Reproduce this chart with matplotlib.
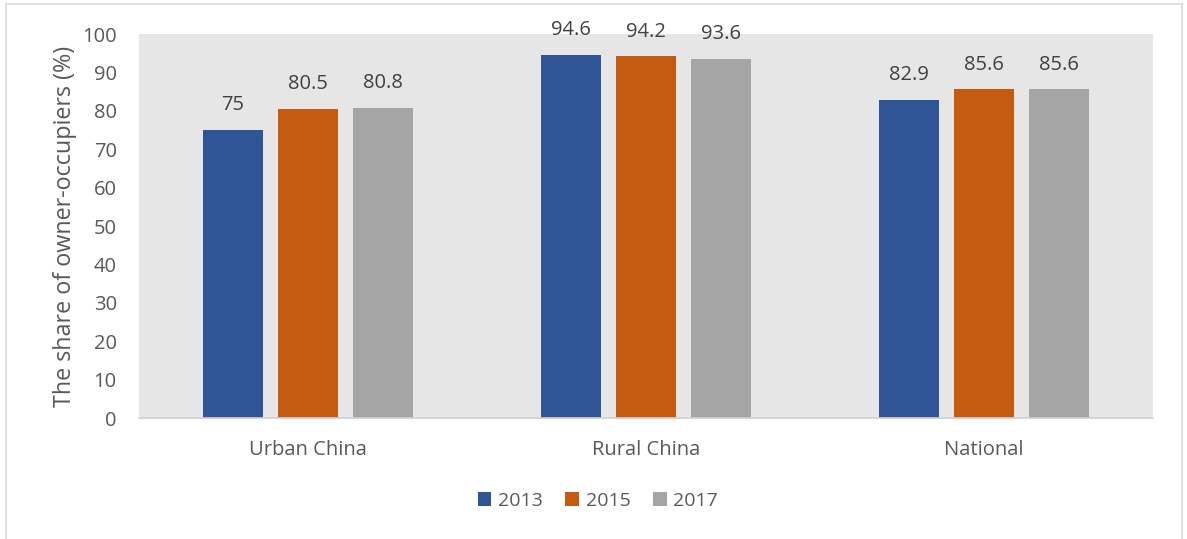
import matplotlib.pyplot as plt
import matplotlib.patches as mpatches
import numpy as np

regions = ['Urban China', 'Rural China', 'National']
years = ['2013', '2015', '2017']
share_2013 = [75, 94.6, 82.9]
share_2015 = [80.5, 94.2, 85.6]
share_2017 = [80.8, 93.6, 85.6]
colors = ['#2f5597', '#c55a11', '#a5a5a5']

plt.rcParams['font.family'] = ['Open Sans', 'DejaVu Sans']
txt = '#595959'

W, H = 1187, 539
fig = plt.figure(figsize=(W / 100, H / 100), dpi=100)
fig.patch.set_facecolor('white')

# outer chart frame
fig.add_artist(mpatches.Rectangle((6 / W, -0.05), (1182 - 6) / W, 1.05 - 4 / H,
                                  transform=fig.transFigure, fill=False,
                                  edgecolor='#d9d9d9', lw=1.2))

ax = fig.add_axes([139 / W, 1 - 418 / H, (1153 - 139) / W, (418 - 34) / H])
ax.set_facecolor('#e7e6e6')

x = np.arange(len(regions))
width = 0.175
step = 0.222
for i, (vals, yr) in enumerate(zip([share_2013, share_2015, share_2017], years)):
    bars = ax.bar(x + (i - 1) * step, vals, width, color=colors[i], label=yr, zorder=2)
    for b, v in zip(bars, vals):
        ax.text(b.get_x() + b.get_width() / 2, v + 3.8, f'{v:g}', ha='center', va='bottom',
                fontsize=14.5, color='#404040')

ax.set_xlim(-0.5, 2.5)
ax.set_ylim(0, 100)
ax.set_yticks(range(0, 101, 10))
ax.set_xticks(x)
ax.set_xticklabels(regions)
ax.tick_params(axis='both', length=0, labelsize=14.5, labelcolor=txt)
ax.tick_params(axis='y', pad=16)
ax.tick_params(axis='x', pad=16)
for s in ['top', 'right', 'left']:
    ax.spines[s].set_visible(False)
ax.spines['bottom'].set_color('#d0d0d0')
ax.spines['bottom'].set_linewidth(1.2)

ax.set_ylabel('The share of owner-occupiers (%)', fontsize=16.8, color=txt, labelpad=4)

handles, labels = ax.get_legend_handles_labels()
fig.legend(handles, labels, loc='center', bbox_to_anchor=(598 / W, 1 - 501 / H), ncol=3,
           frameon=False, fontsize=14, labelcolor=txt, handlelength=0.7, handleheight=0.7,
           handletextpad=0.35, columnspacing=1.15)

fig.savefig('out.png', dpi=100)
